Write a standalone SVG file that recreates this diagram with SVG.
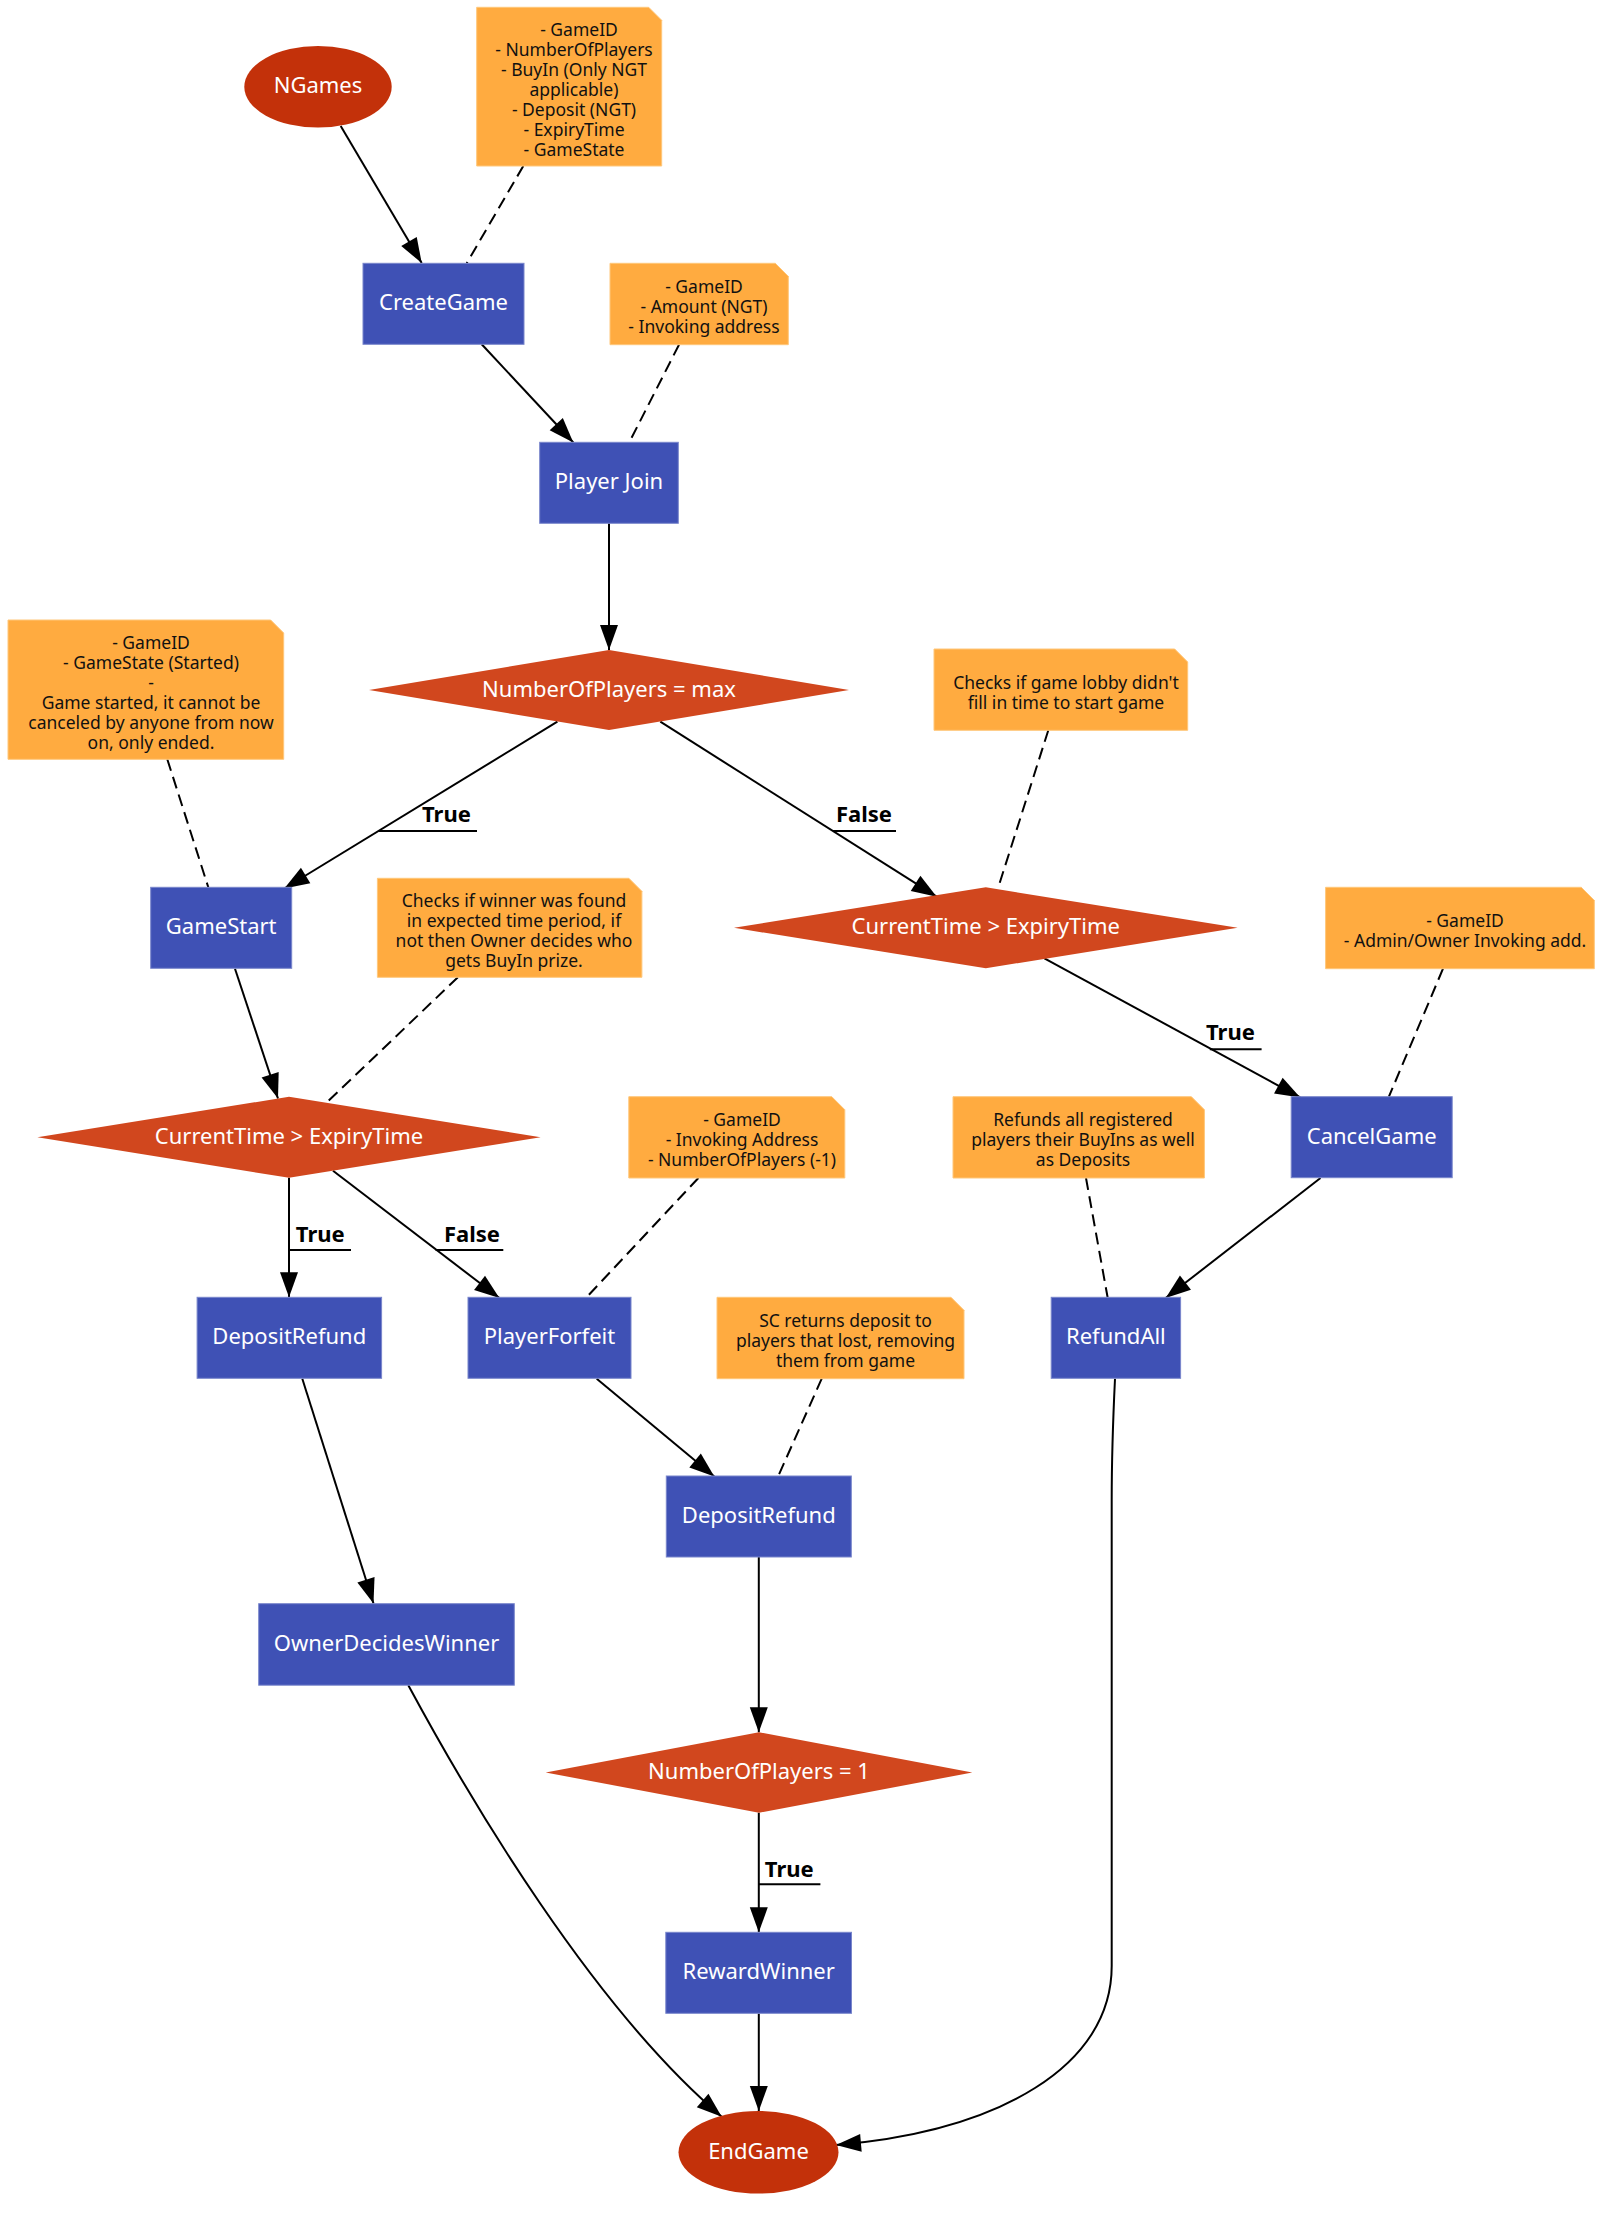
<svg xmlns="http://www.w3.org/2000/svg" width="1617" height="2214" viewBox="0 0 1617 2214">
<defs>
<marker id="ah" markerUnits="userSpaceOnUse" markerWidth="26" markerHeight="20" viewBox="0 0 26 20" refX="25" refY="9" orient="auto" overflow="visible"><path d="M0,0 L25,9 L0,18 z" fill="#000"/></marker>
<style>
.box{fill:#3F51B5;stroke:#7986CB;stroke-width:1}
.dia{fill:#D1471E}
.ell{fill:#C3310A}
.note{fill:#FFAB40;stroke:#FFC77A;stroke-width:1}
.nt{font-family:"Noto Sans","Open Sans","DejaVu Sans",sans-serif;font-size:22px;fill:#fff;text-anchor:middle}
.tt{font-family:"Noto Sans","Open Sans","DejaVu Sans",sans-serif;font-size:17.5px;fill:#111;text-anchor:middle}
.lb{font-family:"Noto Sans","Open Sans","DejaVu Sans",sans-serif;font-size:22px;font-weight:bold;fill:#000}
.e{fill:none;stroke:#000;stroke-width:2;marker-end:url(#ah)}
.d{fill:none;stroke:#000;stroke-width:2;stroke-dasharray:12,6.5}
.u{fill:none;stroke:#000;stroke-width:2}
</style>
</defs>
<rect width="1617" height="2214" fill="#fff"/>

<g id="connectors">
<path class="e" d="M340.7,126 L421.7,263"/>
<path class="e" d="M481.7,344.3 L573.3,442.5"/>
<path class="e" d="M609,523.3 L609,650"/>
<path class="e" d="M557.4,721.7 L284.3,888.5"/>
<path class="e" d="M660.3,721.7 L936.7,896.7"/>
<path class="e" d="M235,968.7 L278,1098.5"/>
<path class="e" d="M1044.4,958.3 L1300.3,1097.5"/>
<path class="e" d="M289,1177.7 L289,1297.3"/>
<path class="e" d="M333,1170.7 L499.4,1298"/>
<path class="e" d="M1320.5,1178 L1165.7,1298"/>
<path class="e" d="M596.7,1378.7 L714.3,1476.5"/>
<path class="e" d="M302.3,1378.7 L373.5,1603.5"/>
<path class="e" d="M758.8,1557 L758.8,1732.3"/>
<path class="e" d="M758.8,1812.7 L758.8,1932.3"/>
<path class="e" d="M758.8,2013.5 L758.8,2111"/>
<path class="e" d="M408.3,1685.2 C469.9,1799.4 592.2,2006.7 721.7,2116.7"/>
<path class="e" d="M1115,1378.7 C1113,1420 1111.7,1450 1111.7,1500 L1111.7,1966 C1111.7,2066 1000,2131 836,2145"/>
<path class="d" d="M523.3,166 L466.7,263.3"/>
<path class="d" d="M679,344.7 L629.3,442.3"/>
<path class="d" d="M167.3,759.3 L208.3,887.3"/>
<path class="d" d="M1048.3,730.3 L998.3,887.3"/>
<path class="d" d="M457.9,977.3 L327.2,1102"/>
<path class="d" d="M1443,968.7 L1388.9,1096.7"/>
<path class="d" d="M1086,1178 L1107.6,1297.3"/>
<path class="d" d="M698.4,1178 L586.5,1297.3"/>
<path class="d" d="M821.7,1378.7 L778.3,1476"/>
<path class="u" d="M379,831 L477,831"/>
<text class="lb" x="422" y="822">True</text>
<path class="u" d="M833,831 L896,831"/>
<text class="lb" x="836" y="822">False</text>
<path class="u" d="M1209.8,1049.3 L1261.6,1049.3"/>
<text class="lb" x="1206" y="1040">True</text>
<path class="u" d="M289,1250 L351,1250"/>
<text class="lb" x="295.8" y="1241.5">True</text>
<path class="u" d="M435.6,1250 L503.3,1250"/>
<text class="lb" x="444" y="1241.5">False</text>
<path class="u" d="M759,1884.2 L820.4,1884.2"/>
<text class="lb" x="764.8" y="1876.5">True</text>
</g>

<g id="NGames"><ellipse class="ell" cx="318" cy="86.8" rx="73.7" ry="40.8"/><text class="nt" x="318" y="93.4">NGames</text></g>
<g id="note_create"><path class="note" d="M476.7,7.3 H648.7 L661.7,20.3 V166 H476.7 Z"/>
<text class="tt" y="36"><tspan x="579">- GameID</tspan><tspan x="574" dy="20">- NumberOfPlayers</tspan><tspan x="574" dy="20">- BuyIn (Only NGT</tspan><tspan x="574" dy="20">applicable)</tspan><tspan x="574" dy="20">- Deposit (NGT)</tspan><tspan x="574" dy="20">- ExpiryTime</tspan><tspan x="574" dy="20">- GameState</tspan></text></g>
<g id="CreateGame"><rect class="box" x="363" y="263.3" width="161" height="81"/><text class="nt" x="443.5" y="310.4">CreateGame</text></g>
<g id="note_join"><path class="note" d="M610,263.3 H775.3 L788.3,276.3 V344.7 H610 Z"/>
<text class="tt" y="293"><tspan x="704">- GameID</tspan><tspan x="704" dy="20">- Amount (NGT)</tspan><tspan x="704" dy="20">- Invoking address</tspan></text></g>
<g id="PlayerJoin"><rect class="box" x="539.7" y="442.3" width="138.6" height="81"/><text class="nt" x="609" y="489.4">Player Join</text></g>
<g id="NumPlayersMax"><polygon class="dia" points="609,650 849,690 609,730 369,690"/><text class="nt" x="609" y="696.6">NumberOfPlayers = max</text></g>
<g id="note_gamestart"><path class="note" d="M8,620 H270.7 L283.7,633 V759.3 H8 Z"/>
<text class="tt" y="648.7"><tspan x="151">- GameID</tspan><tspan x="151" dy="20">- GameState (Started)</tspan><tspan x="151" dy="20">-</tspan><tspan x="151" dy="20">Game started, it cannot be</tspan><tspan x="151" dy="20">canceled by anyone from now</tspan><tspan x="151" dy="20">on, only ended.</tspan></text></g>
<g id="note_lobby"><path class="note" d="M934,649 H1174.7 L1187.7,662 V730.3 H934 Z"/>
<text class="tt" y="688.7"><tspan x="1066">Checks if game lobby didn't</tspan><tspan x="1066" dy="20">fill in time to start game</tspan></text></g>
<g id="GameStart"><rect class="box" x="150.7" y="887.3" width="141" height="81"/><text class="nt" x="221.2" y="934.4">GameStart</text></g>
<g id="ExpiryCheck1"><polygon class="dia" points="985.8,887.3 1237.6,927.8 985.8,968.3 734,927.8"/><text class="nt" x="985.8" y="934.4">CurrentTime &gt; ExpiryTime</text></g>
<g id="note_winner"><path class="note" d="M377.4,878.3 H628.9 L641.9,891.3 V977.3 H377.4 Z"/>
<text class="tt" y="906.8"><tspan x="514">Checks if winner was found</tspan><tspan x="514" dy="20">in expected time period, if</tspan><tspan x="514" dy="20">not then Owner decides who</tspan><tspan x="514" dy="20">gets BuyIn prize.</tspan></text></g>
<g id="note_cancel"><path class="note" d="M1325.6,887.3 H1581.3 L1594.3,900.3 V968.7 H1325.6 Z"/>
<text class="tt" y="927"><tspan x="1465">- GameID</tspan><tspan x="1465" dy="20">- Admin/Owner Invoking add.</tspan></text></g>
<g id="ExpiryCheck2"><polygon class="dia" points="289,1096.8 540.6,1137.3 289,1177.8 37.4,1137.3"/><text class="nt" x="289" y="1143.9">CurrentTime &gt; ExpiryTime</text></g>
<g id="CancelGame"><rect class="box" x="1291.2" y="1096.7" width="161" height="81"/><text class="nt" x="1371.7" y="1143.8">CancelGame</text></g>
<g id="note_forfeit"><path class="note" d="M628.8,1096.7 H831.8 L844.8,1109.7 V1178 H628.8 Z"/>
<text class="tt" y="1126.3"><tspan x="742">- GameID</tspan><tspan x="742" dy="20">- Invoking Address</tspan><tspan x="742" dy="20">- NumberOfPlayers (-1)</tspan></text></g>
<g id="note_refundall"><path class="note" d="M953,1096.7 H1191.4 L1204.4,1109.7 V1178 H953 Z"/>
<text class="tt" y="1126.3"><tspan x="1083">Refunds all registered</tspan><tspan x="1083" dy="20">players their BuyIns as well</tspan><tspan x="1083" dy="20">as Deposits</tspan></text></g>
<g id="DepositRefund1"><rect class="box" x="197.1" y="1297.3" width="184.5" height="81"/><text class="nt" x="289.3" y="1344.4">DepositRefund</text></g>
<g id="PlayerForfeit"><rect class="box" x="468" y="1297.3" width="163" height="81"/><text class="nt" x="549.5" y="1344.4">PlayerForfeit</text></g>
<g id="note_deposit"><path class="note" d="M717,1297.3 H951 L964,1310.3 V1378.7 H717 Z"/>
<text class="tt" y="1327"><tspan x="845.5">SC returns deposit to</tspan><tspan x="845.5" dy="20">players that lost, removing</tspan><tspan x="845.5" dy="20">them from game</tspan></text></g>
<g id="RefundAll"><rect class="box" x="1051.2" y="1297.3" width="129.4" height="81"/><text class="nt" x="1115.9" y="1344.4">RefundAll</text></g>
<g id="DepositRefund2"><rect class="box" x="666.3" y="1476" width="185" height="81"/><text class="nt" x="758.8" y="1523.1">DepositRefund</text></g>
<g id="OwnerDecidesWinner"><rect class="box" x="258.7" y="1603.7" width="255.6" height="81.5"/><text class="nt" x="386.5" y="1651.1">OwnerDecidesWinner</text></g>
<g id="NumPlayersOne"><polygon class="dia" points="759,1732.3 972.3,1772.5 759,1812.7 545.7,1772.5"/><text class="nt" x="759" y="1779.1">NumberOfPlayers = 1</text></g>
<g id="RewardWinner"><rect class="box" x="665.8" y="1932.3" width="185.7" height="81"/><text class="nt" x="758.7" y="1979.4">RewardWinner</text></g>
<g id="EndGame"><ellipse class="ell" cx="758.5" cy="2152.3" rx="80" ry="41.3"/><text class="nt" x="758.5" y="2158.9">EndGame</text></g>
</svg>
